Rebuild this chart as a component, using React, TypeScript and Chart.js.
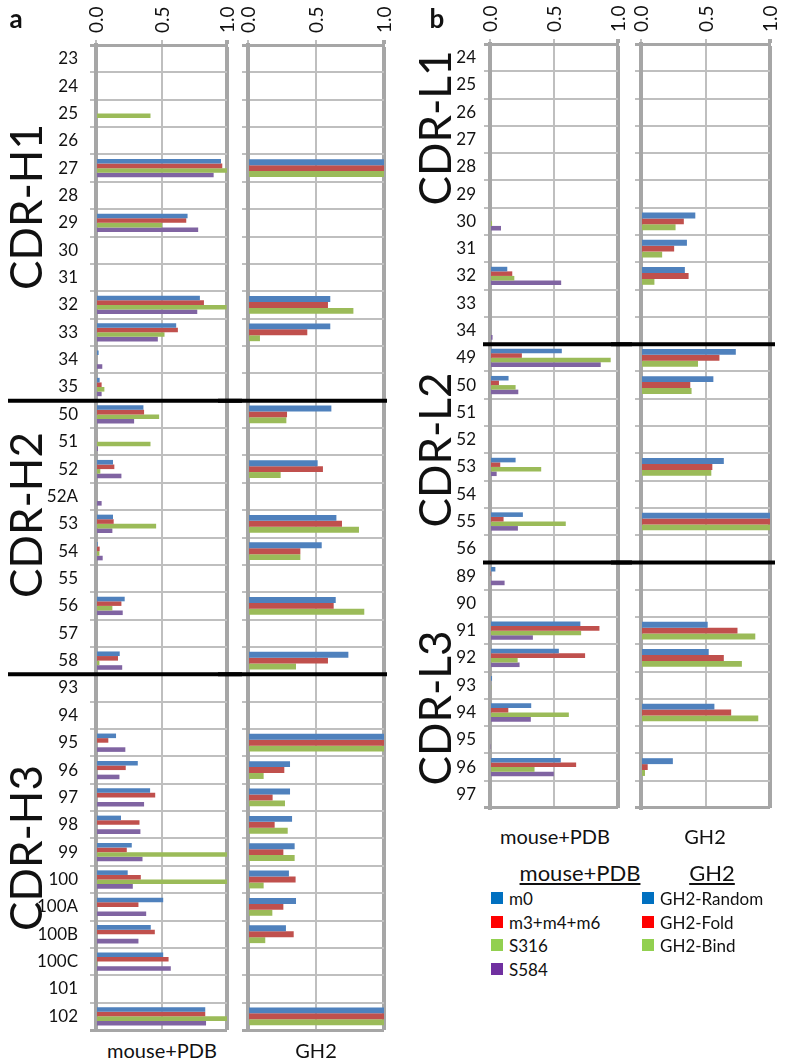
import React, { useEffect, useRef } from 'react';
import { Chart, registerables } from 'chart.js';
Chart.register(...registerables);

const FONT = 'Lato, "Liberation Sans", sans-serif';

// ---------- categories ----------
const heavyPositions = ['23', '24', '25', '26', '27', '28', '29', '30', '31', '32', '33', '34', '35',
  '50', '51', '52', '52A', '53', '54', '55', '56', '57', '58',
  '93', '94', '95', '96', '97', '98', '99', '100', '100A', '100B', '100C', '101', '102'];
const heavyBreaks = ['35', '58'];

const lightPositions = ['24', '25', '26', '27', '28', '29', '30', '31', '32', '33', '34',
  '49', '50', '51', '52', '53', '54', '55', '56',
  '89', '90', '91', '92', '93', '94', '95', '96', '97'];
const lightBreaks = ['34', '56'];

const xTickValues = ['0.0', '0.5', '1.0'];

// ---------- heavy chain, mouse+PDB ----------
const heavyM0 = [0, 0, 0, 0, 0.954, 0, 0.699, 0, 0, 0.793, 0.612, 0.02, 0.028,
  0.362, 0, 0.13, 0, 0.13, 0.013, 0, 0.219, 0, 0.181,
  0, 0, 0.153, 0.319, 0.413, 0.191, 0.273, 0.242, 0.513, 0.418, 0.513, 0, 0.834];
const heavyM346 = [0, 0, 0, 0, 0.964, 0, 0.689, 0, 0, 0.824, 0.625, 0.008, 0.043,
  0.367, 0.008, 0.14, 0, 0.135, 0.028, 0, 0.194, 0, 0.168,
  0, 0, 0.094, 0.227, 0.452, 0.332, 0.235, 0.342, 0.324, 0.449, 0.554, 0, 0.834];
const heavyS316 = [0, 0, 0.416, 0, 1.0, 0, 0.505, 0, 0, 0.997, 0.523, 0, 0.064,
  0.482, 0.416, 0.033, 0, 0.459, 0.026, 0, 0.125, 0, 0.026,
  0, 0, 0, 0, 0, 0, 1.0, 1.0, 0, 0, 0.005, 0, 1.0];
const heavyS584 = [0, 0, 0, 0, 0.898, 0, 0.78, 0, 0, 0.773, 0.472, 0.048, 0.043,
  0.291, 0.015, 0.194, 0.043, 0.125, 0.051, 0, 0.204, 0, 0.2,
  0, 0, 0.224, 0.179, 0.367, 0.339, 0.355, 0.281, 0.383, 0.324, 0.571, 0, 0.84];

// ---------- heavy chain, GH2 ----------
const heavyRandom = [0, 0, 0, 0, 1, 0, 0, 0, 0, 0.605, 0.605, 0, 0,
  0.613, 0, 0.512, 0, 0.65, 0.542, 0, 0.645, 0, 0.738,
  0, 0, 1, 0.309, 0.309, 0.324, 0.343, 0.301, 0.353, 0.279, 0, 0, 1];
const heavyFold = [0, 0, 0, 0, 1, 0, 0, 0, 0, 0.588, 0.436, 0, 0,
  0.287, 0, 0.551, 0, 0.691, 0.385, 0, 0.63, 0, 0.588,
  0, 0, 1, 0.267, 0.181, 0.196, 0.26, 0.35, 0.26, 0.336, 0, 0, 1];
const heavyBind = [0, 0, 0, 0, 1, 0, 0, 0, 0, 0.775, 0.088, 0, 0,
  0.282, 0, 0.24, 0, 0.816, 0.385, 0, 0.855, 0, 0.353,
  0, 0, 1, 0.115, 0.272, 0.292, 0.343, 0.115, 0.179, 0.127, 0, 0, 1];

// ---------- light chain, mouse+PDB ----------
const lightM0 = [0, 0, 0, 0, 0, 0, 0, 0, 0.135, 0, 0,
  0.561, 0.145, 0, 0, 0.2, 0, 0.257, 0,
  0.042, 0, 0.706, 0.538, 0.016, 0.322, 0, 0.553, 0];
const lightM346 = [0, 0, 0, 0, 0, 0, 0.008, 0, 0.174, 0, 0,
  0.249, 0.07, 0, 0, 0.08, 0, 0.106, 0,
  0.005, 0, 0.855, 0.743, 0, 0.143, 0, 0.673, 0];
const lightS316 = [0, 0, 0, 0, 0, 0, 0.016, 0, 0.19, 0, 0,
  0.943, 0.2, 0, 0, 0.4, 0, 0.592, 0,
  0, 0, 0.712, 0.216, 0.01, 0.616, 0, 0.348, 0];
const lightS584 = [0, 0, 0, 0, 0, 0, 0.086, 0, 0.556, 0, 0.02,
  0.865, 0.221, 0, 0, 0.052, 0, 0.218, 0,
  0.114, 0, 0.335, 0.231, 0.008, 0.319, 0.005, 0.499, 0];

// ---------- light chain, GH2 ----------
const lightRandom = [0, 0, 0, 0, 0, 0, 0.421, 0.356, 0.34, 0, 0,
  0.735, 0.561, 0, 0, 0.642, 0, 1, 0,
  0, 0, 0.517, 0.525, 0, 0.569, 0, 0.247, 0];
const lightFold = [0, 0, 0, 0, 0, 0, 0.332, 0.257, 0.369, 0, 0,
  0.608, 0.382, 0, 0, 0.553, 0, 1, 0,
  0, 0, 0.748, 0.642, 0, 0.699, 0, 0.052, 0];
const lightBind = [0, 0, 0, 0, 0, 0, 0.268, 0.164, 0.104, 0, 0,
  0.442, 0.392, 0, 0, 0.545, 0, 1, 0,
  0, 0, 0.886, 0.782, 0, 0.909, 0, 0.031, 0];

const mouseSeriesNames = ['m0', 'm3+m4+m6', 'S316', 'S584'];
const gh2SeriesNames = ['GH2-Random', 'GH2-Fold', 'GH2-Bind'];

const BAR_COLORS = ['#4F81BD', '#C0504D', '#9BBB59', '#8064A2'];
const LEGEND_COLORS = ['#0070C0', '#FF0000', '#92D050', '#7030A0'];
const GRID = '#BFBFBF';
const FRAME = '#A6A6A6';

// group separators + rotated top tick labels (positioned through the x scale)
const decorPlugin = {
  id: 'decor',
  afterDraw(chart: any, _args: any, opts: any) {
    const y = chart.scales.y;
    const x = chart.scales.x;
    const labels = chart.data.labels as string[];
    const ctx = chart.ctx;
    ctx.save();
    ctx.strokeStyle = '#000';
    ctx.lineWidth = 4;
    for (const b of opts.breaks as string[]) {
      const i = labels.indexOf(b);
      const py = (y.getPixelForValue(i) + y.getPixelForValue(i + 1)) / 2;
      const endX = opts.toEdge ? chart.width : chart.chartArea.right + opts.extra;
      ctx.beginPath();
      ctx.moveTo(opts.startX, py);
      ctx.lineTo(endX, py);
      ctx.stroke();
    }
    ctx.fillStyle = '#111';
    ctx.font = `19px ${FONT}`;
    ctx.textAlign = 'left';
    ctx.textBaseline = 'middle';
    for (const t of x.ticks) {
      const px = x.getPixelForValue(t.value);
      const label = xTickValues[Math.round(Number(t.value) * 2)] ?? '';
      ctx.save();
      ctx.translate(px, chart.chartArea.top - 12);
      ctx.rotate(-Math.PI / 2);
      ctx.fillText(label, 0, 1);
      ctx.restore();
    }
    ctx.restore();
  },
};

type PanelProps = {
  left: number; top: number; width: number; height: number;
  labels: string[]; series: number[][]; names: string[];
  yWidth: number; xHeight: number; padRight: number; padBottom: number;
  showYLabels: boolean; yLabelPad: number; catPct: number;
  breaks: string[]; sepStart: number; toEdge: boolean; extra: number;
};

function BarPanel(p: PanelProps) {
  const ref = useRef<HTMLCanvasElement>(null);
  useEffect(() => {
    const edge = (c: any) => c.type === 'scale' || c.index === 0;
    const chart = new Chart(ref.current as HTMLCanvasElement, {
      type: 'bar',
      data: {
        labels: p.labels,
        datasets: p.series.map((d, i) => ({
          label: p.names[i],
          data: d,
          backgroundColor: BAR_COLORS[i],
          borderWidth: 0,
        })),
      },
      plugins: [decorPlugin as any],
      options: {
        indexAxis: 'y',
        responsive: false,
        animation: false,
        events: [],
        layout: { padding: { left: 0, top: 0, right: p.padRight, bottom: p.padBottom } },
        datasets: { bar: { categoryPercentage: p.catPct, barPercentage: 1 } } as any,
        plugins: {
          legend: { display: false },
          tooltip: { enabled: false },
          decor: { breaks: p.breaks, startX: p.sepStart, toEdge: p.toEdge, extra: p.extra },
        } as any,
        scales: {
          x: {
            position: 'top',
            min: 0,
            max: 1,
            ticks: {
              stepSize: 0.5,
              autoSkip: false,
              display: false,
            },
            grid: {
              color: (c: any) => (c.tick && c.tick.value === 1 ? FRAME : GRID),
              lineWidth: (c: any) => (c.tick && c.tick.value === 1 ? 4 : 2),
              tickLength: 5,
              drawTicks: true,
            },
            border: { display: true, color: FRAME, width: 3 },
            afterFit: (s: any) => { s.height = p.xHeight; s.paddingLeft = 0; s.paddingRight = 0; },
          },
          y: {
            type: 'category',
            offset: true,
            ticks: {
              display: p.showYLabels,
              autoSkip: false,
              padding: p.yLabelPad,
              color: '#111',
              font: { family: FONT, size: 17 },
            },
            grid: {
              offset: true,
              color: (c: any) => (edge(c) ? FRAME : GRID),
              lineWidth: (c: any) => (edge(c) ? 3 : 2),
              tickLength: 6,
              drawTicks: true,
            },
            border: { display: true, color: FRAME, width: 4 },
            afterFit: (s: any) => { s.width = p.yWidth; s.paddingTop = 0; s.paddingBottom = 0; },
          },
        } as any,
      },
    });
    return () => chart.destroy();
  }, []);
  return (
    <canvas
      ref={ref}
      width={p.width}
      height={p.height}
      style={{ position: 'absolute', left: p.left, top: p.top, width: p.width, height: p.height }}
    />
  );
}

function Text(props: { x: number; y: number; size: number; children: any; bold?: boolean; rotate?: boolean; underline?: boolean; align?: 'left' | 'center' }) {
  const { x, y, size, bold, rotate, underline, align = 'center' } = props;
  const tx = align === 'center' ? '-50%' : '0';
  return (
    <div
      style={{
        position: 'absolute',
        left: x,
        top: y,
        transform: `translate(${tx}, -50%)${rotate ? ' rotate(-90deg)' : ''}`,
        transformOrigin: rotate ? 'center center' : undefined,
        fontFamily: FONT,
        fontSize: size,
        fontWeight: bold ? 700 : 400,
        textDecoration: underline ? 'underline' : 'none',
        lineHeight: 1,
        whiteSpace: 'nowrap',
        color: '#111',
      }}
    >
      {props.children}
    </div>
  );
}

function LegendItem(props: { x: number; y: number; color: string; label: string }) {
  return (
    <>
      <div style={{ position: 'absolute', left: props.x, top: props.y - 6, width: 12, height: 12, background: props.color }} />
      <Text x={props.x + 18} y={props.y} size={17} align="left">{props.label}</Text>
    </>
  );
}

export default function App() {
  return (
    <div style={{ position: 'absolute', left: 0, top: 0, width: 787, height: 1064, background: '#fff', overflow: 'hidden' }}>
      {/* panel a */}
      <BarPanel left={0} top={0} width={242} height={1035} labels={heavyPositions}
        series={[heavyM0, heavyM346, heavyS316, heavyS584]} names={mouseSeriesNames}
        yWidth={96} xHeight={45} padRight={15} padBottom={5} showYLabels yLabelPad={12} catPct={0.67}
        breaks={heavyBreaks} sepStart={8} toEdge extra={0} />
      <BarPanel left={218} top={0} width={181} height={1035} labels={heavyPositions}
        series={[heavyRandom, heavyFold, heavyBind]} names={gh2SeriesNames}
        yWidth={30} xHeight={45} padRight={15} padBottom={5} showYLabels={false} yLabelPad={0} catPct={0.65}
        breaks={heavyBreaks} sepStart={0} toEdge={false} extra={3} />

      {/* panel b */}
      <BarPanel left={400} top={0} width={232} height={813} labels={lightPositions}
        series={[lightM0, lightM346, lightS316, lightS584]} names={mouseSeriesNames}
        yWidth={90} xHeight={44} padRight={14} padBottom={5} showYLabels yLabelPad={8} catPct={0.67}
        breaks={lightBreaks} sepStart={83} toEdge extra={0} />
      <BarPanel left={611} top={0} width={174} height={813} labels={lightPositions}
        series={[lightRandom, lightFold, lightBind]} names={gh2SeriesNames}
        yWidth={30} xHeight={44} padRight={15} padBottom={5} showYLabels={false} yLabelPad={0} catPct={0.65}
        breaks={lightBreaks} sepStart={0} toEdge={false} extra={5} />

      <Text x={16} y={18} size={26} bold>a</Text>
      <Text x={437} y={18} size={26} bold>b</Text>

      <Text x={25} y={207} size={44} rotate>CDR-H1</Text>
      <Text x={25} y={515} size={44} rotate>CDR-H2</Text>
      <Text x={25} y={848} size={44} rotate>CDR-H3</Text>
      <Text x={434} y={128} size={44} rotate>CDR-L1</Text>
      <Text x={434} y={450} size={44} rotate>CDR-L2</Text>
      <Text x={434} y={708} size={44} rotate>CDR-L3</Text>

      <Text x={162} y={1050} size={20}>mouse+PDB</Text>
      <Text x={316} y={1050} size={20}>GH2</Text>
      <Text x={555} y={836} size={20}>mouse+PDB</Text>
      <Text x={705} y={836} size={20}>GH2</Text>

      <Text x={580} y={873} size={22} underline>mouse+PDB</Text>
      <Text x={712} y={873} size={22} underline>GH2</Text>
      {mouseSeriesNames.map((n, i) => (
        <LegendItem key={n} x={491} y={898 + i * 23.5} color={LEGEND_COLORS[i]} label={n} />
      ))}
      {gh2SeriesNames.map((n, i) => (
        <LegendItem key={n} x={642} y={898 + i * 23.5} color={LEGEND_COLORS[i]} label={n} />
      ))}
    </div>
  );
}
